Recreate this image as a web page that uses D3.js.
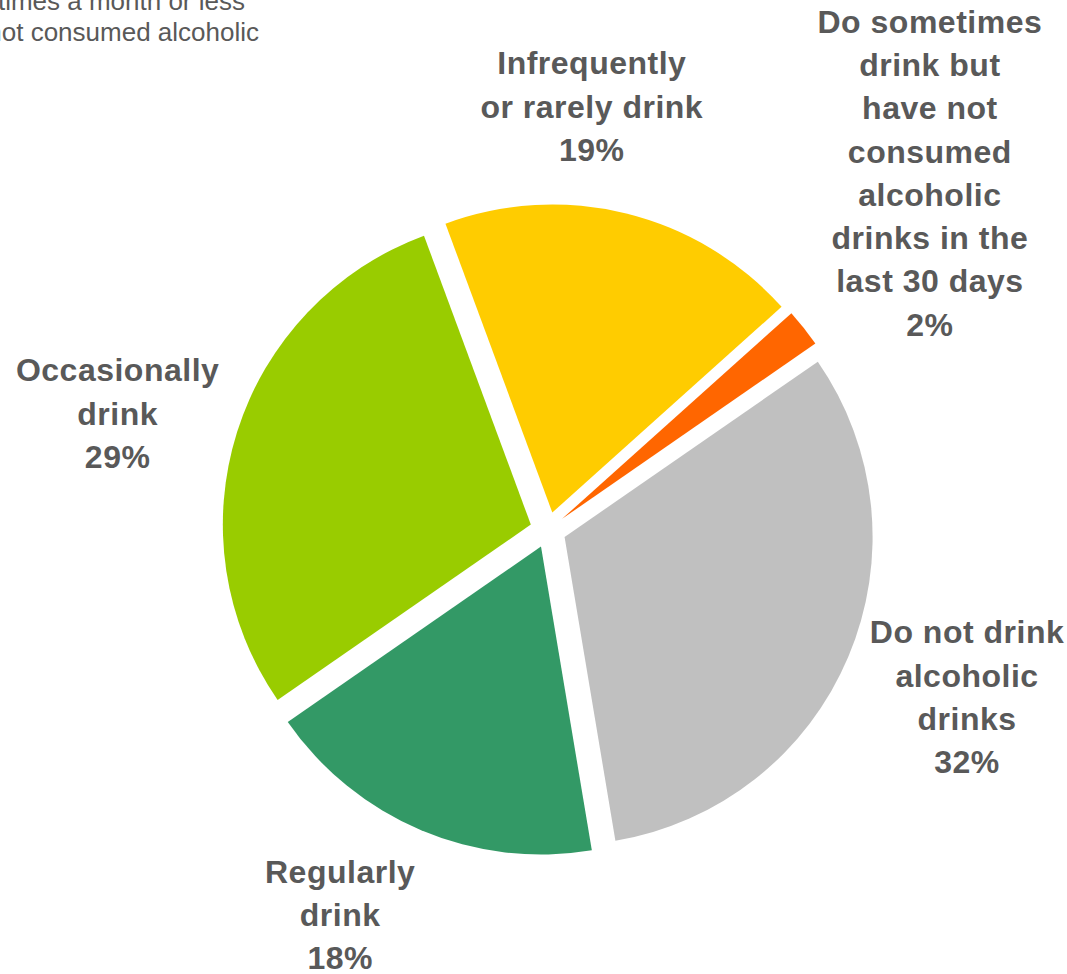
<!DOCTYPE html>
<html>
<head>
<meta charset="utf-8">
<script src="https://cdn.jsdelivr.net/npm/d3@7"></script>
<style>
  html, body { margin: 0; padding: 0; background: #ffffff; }
  svg { display: block; }
</style>
</head>
<body>
<svg id="chart" width="1067" height="974"></svg>
<script>
// ---- Data ----
const categories = [
  "Regularly drink",
  "Occasionally drink",
  "Infrequently or rarely drink",
  "Do sometimes drink but have not consumed alcoholic drinks in the last 30 days",
  "Do not drink alcoholic drinks"
];
const values = [18, 29, 19, 2, 32];
const colors = ["#339966", "#99CC00", "#FFCC00", "#FF6600", "#C0C0C0"];
const labelLines = [
  ["Regularly", "drink", "18%"],
  ["Occasionally", "drink", "29%"],
  ["Infrequently", "or rarely drink", "19%"],
  ["Do sometimes", "drink but", "have not", "consumed", "alcoholic", "drinks in the", "last 30 days", "2%"],
  ["Do not drink", "alcoholic", "drinks", "32%"]
];
// cut-off legend text at top-left
const legendLines = ["Drink a few times a month or less", "Do sometimes drink but have not consumed alcoholic"];

// ---- Layout ----
const W = 1067, H = 974;
const cx = 548, cy = 530, R = 308, explode = 18;
const startDeg = 170.5;
// label placement: polar (angle deg, distance) from pie center to block center
const labelPolar = [
  [208.4, 437],
  [285.2, 446],
  [5.9, 426],
  [46.9, 523],
  [111.7, 451]
];
const fontSize = 32, lineH = 43.3;
const textColor = "#595959";

const svg = d3.select("#chart");
const g = svg.append("g").attr("transform", `translate(${cx},${cy})`);

const pie = d3.pie().sort(null).value(d => d)
  .startAngle(startDeg * Math.PI / 180)
  .endAngle(startDeg * Math.PI / 180 + 2 * Math.PI);
const arcs = pie(values);
const arc = d3.arc().innerRadius(0).outerRadius(R);

g.selectAll("path.slice")
  .data(arcs)
  .join("path")
  .attr("class", "slice")
  .attr("fill", (d, i) => colors[i])
  .attr("transform", d => {
    const a = (d.startAngle + d.endAngle) / 2;
    return `translate(${explode * Math.sin(a)},${-explode * Math.cos(a)})`;
  })
  .attr("d", arc);

// data labels
arcs.forEach((d, i) => {
  const [ang, dist] = labelPolar[i];
  const a = ang * Math.PI / 180;
  const x = dist * Math.sin(a);
  const y = -dist * Math.cos(a);
  const lines = labelLines[i];
  const n = lines.length;
  // block vertical center -> first baseline
  const firstBase = y - (n - 1) * lineH / 2 + fontSize * 0.36;
  const t = g.append("text")
    .attr("text-anchor", "middle")
    .attr("font-family", "Liberation Sans, Arial, sans-serif")
    .attr("font-weight", "bold")
    .attr("font-size", fontSize)
    .attr("letter-spacing", "0.5px")
    .attr("fill", textColor);
  lines.forEach((ln, k) => {
    t.append("tspan").attr("x", x).attr("y", firstBase + k * lineH).text(ln);
  });
});

// cut-off legend text
const leg = svg.append("text")
  .attr("text-anchor", "end")
  .attr("font-family", "Liberation Sans, Arial, sans-serif")
  .attr("font-size", 26)
  .attr("fill", textColor);
leg.append("tspan").attr("x", 245).attr("y", 10).text(legendLines[0]);
leg.append("tspan").attr("x", 259).attr("y", 41).text(legendLines[1]);
</script>
</body>
</html>
